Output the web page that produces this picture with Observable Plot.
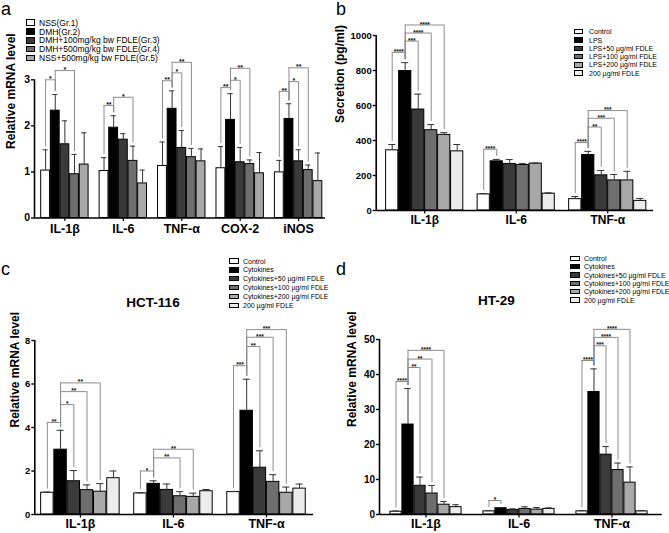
<!DOCTYPE html>
<html><head><meta charset="utf-8">
<script src="https://cdn.jsdelivr.net/npm/d3@7"></script>
<script src="https://cdn.jsdelivr.net/npm/@observablehq/plot@0.6"></script>
<style>
body{margin:0;background:#fff;}
#fig{position:relative;width:669px;height:533px;overflow:hidden;font-family:"Liberation Sans",Arial,Helvetica,sans-serif;color:#000;}
.panel{position:absolute;}
.letter{position:absolute;font-size:18px;line-height:18px;}
.lrow{position:absolute;display:flex;align-items:center;white-space:nowrap;}
.sw{box-sizing:border-box;border:0.8px solid #000;flex:none;}
.title{position:absolute;font-weight:bold;font-size:13.5px;transform:translate(-50%,-50%);white-space:nowrap;}
</style></head><body><div id="fig"></div><script>
// ---------- data ----------
const aCategories = ["IL-1β","IL-6","TNF-α","COX-2","iNOS"];
const aGroups = ["NSS(Gr.1)","DMH(Gr.2)","DMH+100mg/kg bw FDLE(Gr.3)","DMH+500mg/kg bw FDLE(Gr.4)","NSS+500mg/kg bw FDLE(Gr.5)"];
const aMeans = [[1.03,2.33,1.60,0.95,1.16],[1.02,1.96,1.70,1.24,0.75],[1.13,2.37,1.52,1.32,1.23],[1.08,2.13,1.21,1.17,0.97],[0.99,2.15,1.23,1.04,0.80]];
const aSD = [[0.45,0.35,0.51,0.43,0.69],[0.29,0.26,0.13,0.32,0.29],[0.52,0.39,0.38,0.19,0.27],[0.47,0.57,0.32,0.09,0.45],[0.26,0.33,0.25,0.11,0.61]];
const aBrackets = [[0,0,1,3.0,"*"],[0,1,3,3.2,"*"],[1,0,1,2.44,"**"],[1,1,3,2.62,"*"],[2,0,1,2.98,"**"],[2,1,2,3.15,"*"],[2,1,3,3.38,"**"],[3,0,1,2.83,"**"],[3,1,2,2.99,"*"],[3,1,3,3.25,"**"],[4,0,1,2.75,"**"],[4,1,2,2.96,"*"],[4,1,3,3.26,"**"]];
const aYTicks = [0,1,2,3];

const bCategories = ["IL-1β","IL-6","TNF-α"];
const bGroups = ["Control","LPS","LPS+50 µg/ml FDLE","LPS+100 µg/ml FDLE","LPS+200 µg/ml FDLE","200 µg/ml FDLE"];
const bMeans = [[344,797,577,459,432,338],[92,281,266,260,268,96],[65,317,201,172,172,55]];
const bSD = [[33,48,88,32,13,39],[5,11,25,8,3,5],[15,21,28,34,52,14]];
const bBrackets = [[0,0,1,904,"****"],[0,1,2,968,"***"],[0,1,3,1014,"****"],[0,1,4,1060,"****"],[1,0,1,350,"****"],[2,0,1,388,"****"],[2,1,2,477,"**"],[2,1,3,527,"***"],[2,1,4,571,"***"]];
const bYTicks = [0,200,400,600,800,1000];

const cCategories = ["IL-1β","IL-6","TNF-α"];
const cGroups = ["Control","Cytokines","Cytokines+50 µg/ml FDLE","Cytokines+100 µg/ml FDLE","Cytokines+200 µg/ml FDLE","200 µg/ml FDLE"];
const cMeans = [[1.00,2.98,1.53,1.12,1.05,1.67],[0.97,1.41,1.13,0.84,0.81,1.07],[1.03,4.77,2.15,1.50,1.00,1.19]];
const cSD = [[0.03,0.89,0.49,0.24,0.37,0.33],[0.03,0.14,0.27,0.21,0.17,0.08],[0.03,1.45,0.78,0.33,0.26,0.21]];
const cBrackets = [[0,0,1,4.23,"**"],[0,1,2,5.05,"*"],[0,1,3,5.65,"**"],[0,1,4,6.05,"**"],[1,0,1,2.0,"*"],[1,1,3,2.6,"**"],[1,1,4,3.0,"**"],[2,0,1,6.84,"***"],[2,1,2,7.72,"**"],[2,1,3,8.15,"***"],[2,1,4,8.5,"***"]];
const cYTicks = [0,2,4,6,8];

const dCategories = ["IL-1β","IL-6","TNF-α"];
const dGroups = ["Control","Cytokines","Cytokines+50 µg/ml FDLE","Cytokines+100 µg/ml FDLE","Cytokines+200 µg/ml FDLE","200 µg/ml FDLE"];
const dMeans = [[0.8,25.7,8.2,6.0,2.8,2.1],[0.9,1.8,1.3,1.6,1.4,1.6],[0.9,35.0,17.1,12.7,9.1,0.9]];
const dSD = [[0.2,10.3,2.5,2.3,0.9,0.7],[0.2,0.2,0.3,0.6,0.6,0.3],[0.2,6.6,2.3,2.0,4.5,0.2]];
const dBrackets = [[0,0,1,38.0,"****"],[0,1,2,42.0,"**"],[0,1,3,44.4,"**"],[0,1,4,46.9,"****"],[1,0,1,4.0,"*"],[2,0,1,44.0,"****"],[2,1,2,48.2,"***"],[2,1,3,50.6,"****"],[2,1,4,52.9,"****"]];
const dYTicks = [0,10,20,30,40,50];

const colors5 = ["#ffffff","#000000","#3a3a3a","#6e6e6e","#a8a8a8"];
const colors6 = ["#ffffff","#000000","#3a3a3a","#6e6e6e","#a8a8a8","#ececec"];
const FONT = "'Liberation Sans', Arial, Helvetica, sans-serif";

// ---------- helpers ----------
const fig = document.getElementById("fig");

function panel(cfg) {
  const n = cfg.groups.length;
  const bars = [];
  cfg.categories.forEach((cat, ci) => cfg.groups.forEach((g, gi) => {
    const xc = ci + (gi - (n - 1) / 2) * cfg.barW;
    const mean = cfg.means[ci][gi];
    const top = mean + cfg.sd[ci][gi];
    bars.push({ci, gi, xc, x1: xc - cfg.barW / 2, x2: xc + cfg.barW / 2,
      c1: xc - cfg.barW * 0.27, c2: xc + cfg.barW * 0.27, mean, top, color: cfg.colors[gi]});
  }));
  const bar = (ci, gi) => bars[ci * n + gi];
  const pxPerUnit = (cfg.height - cfg.mt - cfg.mb) / (cfg.yDomain[1] - cfg.yDomain[0]);
  const gap = 3 / pxPerUnit;
  const br = cfg.brackets.map(([ci, a, b, level, label]) => ({
    xa: bar(ci, a).xc, xb: bar(ci, b).xc, ya: bar(ci, a).top + gap, yb: bar(ci, b).top + gap,
    xm: (bar(ci, a).xc + bar(ci, b).xc) / 2, level, label}));
  const legs = br.flatMap(d => [{x: d.xa, y1: d.ya, y2: d.level}, {x: d.xb, y1: d.yb, y2: d.level}]);
  const svg = Plot.plot({
    width: cfg.width, height: cfg.height,
    marginLeft: cfg.ml, marginRight: cfg.mr, marginTop: cfg.mt, marginBottom: cfg.mb,
    style: {background: "transparent", fontFamily: FONT, overflow: "visible"},
    x: {type: "linear", domain: cfg.xDomain},
    y: {domain: cfg.yDomain},
    marks: [
      Plot.rect(bars, {x1: "x1", x2: "x2", y1: () => 0, y2: "mean", fill: "color", stroke: "#000", strokeWidth: 1, insetLeft: 0.4, insetRight: 0.4}),
      Plot.ruleX(bars, {x: "xc", y1: "mean", y2: "top", stroke: "#333", strokeWidth: 1}),
      Plot.ruleY(bars, {y: "top", x1: "c1", x2: "c2", stroke: "#333", strokeWidth: 1}),
      Plot.ruleX(legs, {x: "x", y1: "y1", y2: "y2", stroke: "#8c8c8c", strokeWidth: 1}),
      Plot.ruleY(br, {y: "level", x1: "xa", x2: "xb", stroke: "#8c8c8c", strokeWidth: 1}),
      Plot.text(br, {x: "xm", y: "level", text: "label", lineAnchor: "bottom", dy: 1.5, fontSize: cfg.starFont, fontWeight: "bold", fill: "#111"}),
      Plot.ruleY([0], {stroke: "#000", strokeWidth: 1.6}),
      Plot.ruleX([cfg.xDomain[0]], {y1: cfg.yDomain[0], y2: cfg.yDomain[1], stroke: "#000", strokeWidth: 1.6}),
      Plot.axisY({ticks: cfg.yTicks, tickSize: 3, tickPadding: 1.5, tickFormat: d => String(d), fontSize: cfg.yTickFont, fontWeight: "bold", strokeWidth: 1.4, label: null}),
      Plot.axisX({ticks: cfg.categories.map((_, i) => i), tickFormat: i => cfg.categories[Math.round(i)], tickSize: 3.5, tickPadding: cfg.catPad, fontSize: cfg.catFont, fontWeight: "bold", strokeWidth: 1.2, label: null}),
      Plot.text([cfg.yTitle], {text: d => d, frameAnchor: "left", rotate: -90, lineAnchor: "top", dx: cfg.titleDx, fontSize: 12, fontWeight: "bold"})
    ]
  });
  const wrap = document.createElement("div");
  wrap.className = "panel";
  wrap.style.left = cfg.left + "px";
  wrap.style.top = cfg.top + "px";
  wrap.appendChild(svg);
  fig.appendChild(wrap);
}

function legend(items, colors, o) {
  items.forEach((name, i) => {
    const row = document.createElement("div");
    row.className = "lrow";
    row.style.left = o.left + "px";
    row.style.top = (o.top0 + i * o.step - 6) + "px";
    row.style.height = "12px";
    row.style.fontSize = o.font + "px";
    const sw = document.createElement("span");
    sw.className = "sw";
    sw.style.width = o.swW + "px";
    sw.style.height = o.swH + "px";
    sw.style.background = colors[i];
    sw.style.marginRight = o.gap + "px";
    const t = document.createElement("span");
    t.textContent = name;
    row.appendChild(sw);
    row.appendChild(t);
    fig.appendChild(row);
  });
}

function addText(cls, txt, x, y) {
  const d = document.createElement("div");
  d.className = cls;
  d.textContent = txt;
  d.style.left = x + "px";
  d.style.top = y + "px";
  fig.appendChild(d);
}

// ---------- panels ----------
panel({left: 0, top: 0, width: 330, height: 265, ml: 34, mr: 5, mt: 79.3, mb: 47.5,
  xDomain: [-0.52, 4.46], yDomain: [0, 3], yTicks: aYTicks, barW: 0.165,
  categories: aCategories, groups: aGroups, means: aMeans, sd: aSD, brackets: aBrackets, colors: colors5,
  yTickFont: 10.5, catFont: 12.5, catPad: 3, starFont: 7, yTitle: "Relative mRNA level", titleDx: -28});

panel({left: 330, top: 0, width: 339, height: 265, ml: 45.7, mr: 16, mt: 35, mb: 55,
  xDomain: [-0.53, 2.50], yDomain: [0, 1000], yTicks: bYTicks, barW: 0.142,
  categories: bCategories, groups: bGroups, means: bMeans, sd: bSD, brackets: bBrackets, colors: colors6,
  yTickFont: 9.5, catFont: 12, catPad: 1, starFont: 6.5, yTitle: "Secretion (pg/ml)", titleDx: -40.5});

panel({left: 0, top: 265, width: 330, height: 268, ml: 34.3, mr: 17, mt: 75, mb: 19,
  xDomain: [-0.49, 2.505], yDomain: [0, 8], yTicks: cYTicks, barW: 0.142,
  categories: cCategories, groups: cGroups, means: cMeans, sd: cSD, brackets: cBrackets, colors: colors6,
  yTickFont: 9.5, catFont: 12.5, catPad: 1, starFont: 6.5, yTitle: "Relative mRNA level", titleDx: -24});

panel({left: 330, top: 265, width: 339, height: 268, ml: 49, mr: 7.3, mt: 74, mb: 19,
  xDomain: [-0.50, 2.54], yDomain: [0, 50], yTicks: dYTicks, barW: 0.129,
  categories: dCategories, groups: dGroups, means: dMeans, sd: dSD, brackets: dBrackets, colors: colors6,
  yTickFont: 10, catFont: 12.5, catPad: 1, starFont: 6.5, yTitle: "Relative mRNA level", titleDx: -32});

// ---------- legends, titles, letters ----------
legend(aGroups, colors5, {left: 26, top0: 22.7, step: 8.8, swW: 9, swH: 6.5, gap: 4, font: 8.5});
legend(bGroups, colors6, {left: 574, top0: 31.7, step: 8.3, swW: 9, swH: 5.5, gap: 6, font: 7});
legend(cGroups, colors6, {left: 229, top0: 261, step: 8.87, swW: 10, swH: 5.5, gap: 4, font: 7});
legend(dGroups, colors6, {left: 570, top0: 258.3, step: 8.35, swW: 10, swH: 5.5, gap: 4, font: 7});

addText("title", "HCT-116", 153, 302);
addText("title", "HT-29", 496.5, 300);
addText("letter", "a", 1, 0);
addText("letter", "b", 336, 0);
addText("letter", "c", 1, 260);
addText("letter", "d", 336, 260);
</script></body></html>
